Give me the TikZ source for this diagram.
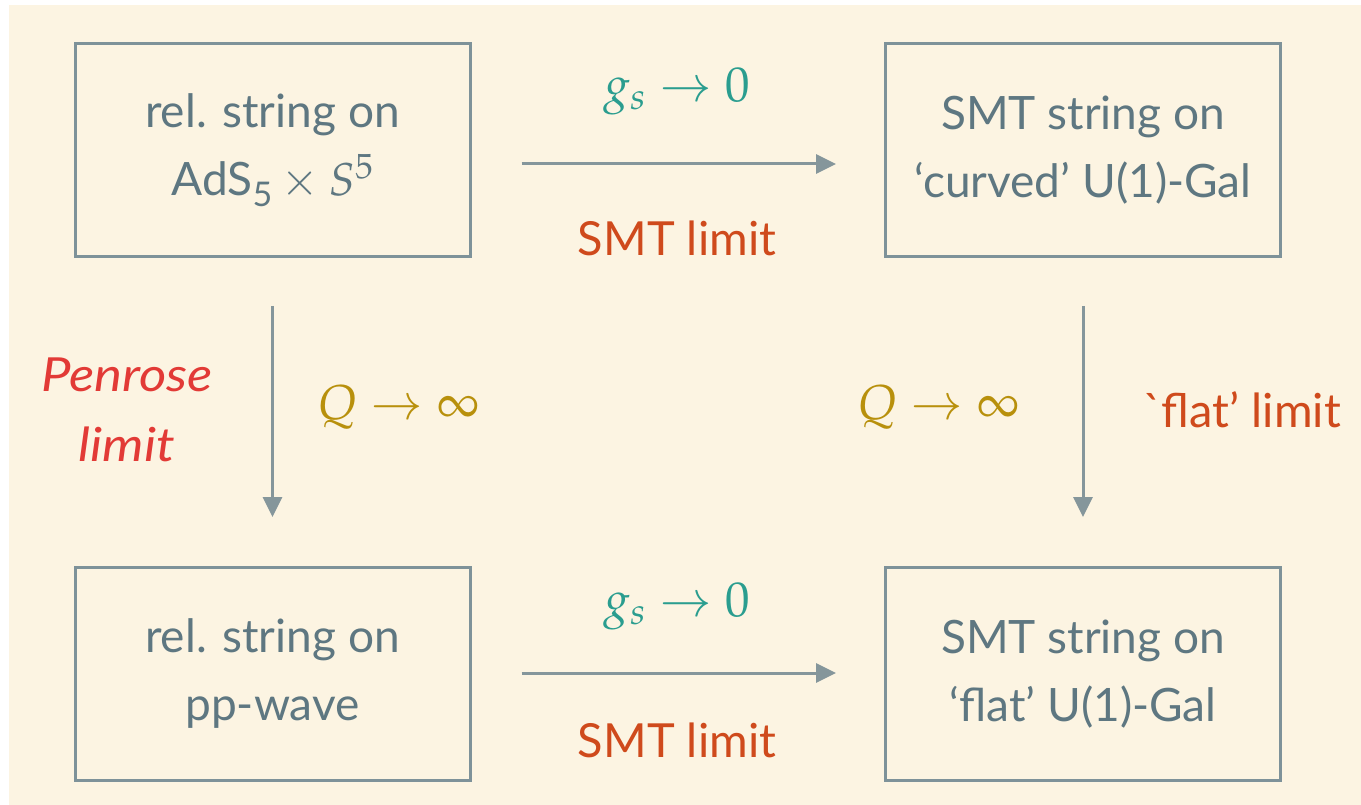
\RequirePackage{fix-cm}
\documentclass[tikz,border=0pt]{standalone}
\usepackage{mathpazo}
\usepackage{fontspec}
\newfontfamily\lato{Lato}
\newfontfamily\latoit{Lato Italic}[FakeStretch=1.12]
\usetikzlibrary{arrows.meta}
\definecolor{bgc}{HTML}{FCF4E2}
\definecolor{boxc}{HTML}{7E9299}
\definecolor{txtc}{HTML}{5E7781}
\definecolor{arrc}{HTML}{85969B}
\definecolor{tealc}{HTML}{2A9D8F}
\definecolor{smtc}{HTML}{CF4A1C}
\definecolor{penc}{HTML}{E23A36}
\definecolor{goldc}{HTML}{B8900C}
\tikzset{
  box/.style={draw=boxc, line width=3pt, minimum width=395pt, minimum height=213pt,
    inner sep=0pt, text=txtc, align=center, font=\lato\fontsize{46}{68}\selectfont},
  arr/.style={draw=arrc, line width=3pt, -{Triangle[length=20pt,width=19pt]}},
  mlab/.style={inner sep=0pt, font=\fontsize{49}{52}\selectfont},
  tlab/.style={inner sep=0pt, font=\lato\fontsize{47}{68}\selectfont, align=center},
}
\begin{document}
\begin{tikzpicture}[x=1pt,y=-1pt]
\useasboundingbox (0,0) rectangle (1361,805);
\fill[white] (0,0) rectangle (1361,805);
\fill[bgc] (9,5) rectangle (1361,805);

\node[box] (tl) at (272.5,150) {rel. string on\\AdS\raisebox{-0.25em}{\fontsize{34}{34}\selectfont 5}${}\times S^5$};
\node[box] (tr) at (1083,150) {SMT string on\\‘curved’ U(1)-Gal};
\node[box] (bl) at (272.5,674) {rel. string on\\pp-wave};
\node[box] (br) at (1083,674) {SMT string on\\‘flat’ U(1)-Gal};

\draw[arr, shorten <=50pt, shorten >=48pt] ([yshift=-14pt]tl.east) -- ([yshift=-14pt]tr.west);
\draw[arr, shorten <=50pt, shorten >=48pt] ([yshift=1pt]bl.east) -- ([yshift=1pt]br.west);
\draw[arr, shorten <=48pt, shorten >=49pt] (tl.south) -- (bl.north);
\draw[arr, shorten <=48pt, shorten >=49pt] (tr.south) -- (br.north);

\node[mlab, text=tealc] (g1) at (677,92) {$g_s\to 0$};
\node[tlab, text=smtc] (s1) at (677,238) {SMT limit};
\node[mlab, text=tealc] (g2) at (677,607) {$g_s\to 0$};
\node[tlab, text=smtc] (s2) at (677,740) {SMT limit};

\node[tlab, text=penc, font=\latoit\fontsize{47}{70}\selectfont] (pen) at (127,410) {Penrose\\limit};
\node[mlab, text=goldc] (q1) at (399,407) {$Q\to\infty$};
\node[mlab, text=goldc] (q2) at (939,407) {$Q\to\infty$};
\node[tlab, text=smtc] (flat) at (1242,410) {`flat’ limit};
\end{tikzpicture}
\end{document}
